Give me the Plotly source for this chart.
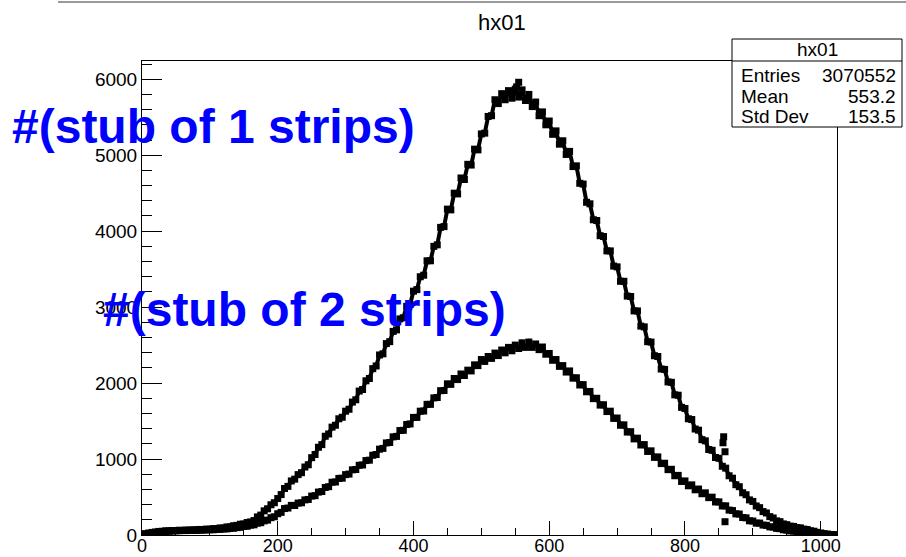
import plotly.graph_objects as go

# ---------------- data ----------------
bin_x = list(range(0, 1025, 5))

stub1_counts = [
    4, 16, 24, 34, 38, 47, 49, 55, 53, 59, 58, 63, 60, 66, 63, 68, 66, 73, 70, 78,
    76, 84, 83, 93, 92, 106, 108, 122, 127, 142, 146, 165, 172, 190, 238, 262, 318, 345, 398, 425,
    480, 532, 612, 640, 712, 735, 795, 820, 895, 925, 1018, 1060, 1155, 1190, 1300, 1330, 1420, 1445, 1530, 1550,
    1630, 1655, 1750, 1780, 1895, 1915, 2030, 2060, 2190, 2225, 2370, 2385, 2520, 2545, 2680, 2700, 2845, 2860, 3010, 3035,
    3210, 3230, 3400, 3420, 3610, 3610, 3800, 3820, 4050, 4060, 4290, 4280, 4500, 4490, 4700, 4680, 4880, 4870, 5080, 5070,
    5280, 5290, 5510, 5520, 5730, 5680, 5810, 5730, 5850, 5750, 5870, 5765, 5860, 5720, 5800, 5640, 5700, 5520, 5570, 5400,
    5450, 5275, 5320, 5145, 5190, 5010, 5050, 4850, 4860, 4630, 4620, 4380, 4360, 4150, 4140, 3940, 3930, 3740, 3740, 3540,
    3530, 3340, 3340, 3145, 3140, 2950, 2950, 2750, 2740, 2545, 2540, 2360, 2350, 2185, 2180, 2015, 2010, 1845, 1840, 1680,
    1665, 1530, 1520, 1395, 1380, 1255, 1240, 1125, 1115, 1020, 1010, 905, 880, 780, 748, 662, 636, 556, 530, 462,
    442, 382, 360, 308, 290, 242, 224, 186, 176, 146, 136, 117, 113, 97, 94, 78, 72, 56, 50, 35,
    27, 17, 13, 7, 5,
]

stub2_counts = [
    4, 13, 23, 28, 36, 39, 46, 47, 51, 52, 56, 56, 59, 58, 61, 60, 63, 63, 66, 66,
    69, 69, 73, 74, 80, 80, 87, 89, 97, 101, 113, 115, 129, 134, 155, 162, 186, 196, 228, 240,
    280, 298, 348, 355, 390, 388, 420, 424, 462, 468, 512, 518, 565, 572, 625, 636, 695, 698, 745, 748,
    795, 802, 858, 862, 918, 922, 980, 985, 1050, 1060, 1130, 1140, 1212, 1218, 1292, 1298, 1375, 1378, 1455, 1462,
    1548, 1548, 1630, 1632, 1720, 1720, 1805, 1810, 1900, 1902, 1990, 1983, 2060, 2046, 2120, 2100, 2170, 2160, 2240, 2230,
    2310, 2285, 2350, 2325, 2395, 2362, 2435, 2398, 2470, 2425, 2500, 2455, 2530, 2470, 2540, 2470, 2515, 2440, 2475, 2380,
    2390, 2300, 2310, 2220, 2230, 2145, 2160, 2065, 2070, 1975, 1980, 1885, 1890, 1795, 1800, 1710, 1715, 1625, 1630, 1535,
    1540, 1445, 1450, 1355, 1360, 1265, 1275, 1185, 1190, 1100, 1108, 1022, 1028, 940, 945, 860, 865, 780, 785, 705,
    712, 648, 660, 595, 605, 543, 555, 492, 498, 435, 436, 382, 384, 328, 322, 278, 276, 230, 226, 187,
    184, 156, 157, 131, 127, 107, 104, 87, 83, 69, 64, 54, 51, 43, 39, 32, 29, 23, 21, 15,
    13, 8, 7, 3, 2,
]

outlier_x = [552, 555, 857, 856, 859, 859]
outlier_y = [5900, 5960, 1293, 1214, 1096, 175]

hist_title = "hx01"
stats_names = ["Entries", "Mean", "Std Dev"]
stats_values = ["3070552", "553.2", "153.5"]
label_1 = "#(stub of 1 strips)"
label_2 = "#(stub of 2 strips)"

x_tickvals = [0, 200, 400, 600, 800, 1000]
y_tickvals = [0, 1000, 2000, 3000, 4000, 5000, 6000]

# ---------------- figure ----------------
W, H = 906, 557
L, R, T, B = 142, 69, 61, 22
PW, PH = W - L - R, H - T - B


def px_x(p):
    return (p - L) / PW


def px_y(p):
    return (H - B - p) / PH


FONT = "Liberation Sans, Arial, Helvetica, sans-serif"
marker = dict(symbol="square", size=7, color="black", line=dict(width=0))

fig = go.Figure()
for ys in (stub1_counts, stub2_counts):
    # dense band of bins: joining stroke under the square markers
    fig.add_trace(go.Scatter(x=bin_x, y=ys, mode="lines+markers", marker=marker,
                             line=dict(color="black", width=4),
                             showlegend=False, hoverinfo="skip"))
fig.add_trace(go.Scatter(x=outlier_x, y=outlier_y, mode="markers", marker=marker,
                         showlegend=False, hoverinfo="skip"))

axis_common = dict(
    showgrid=False, zeroline=False, showline=True, linecolor="black", linewidth=1,
    mirror=True, ticks="inside", tickcolor="black", tickwidth=1, automargin=False,
)

fig.update_xaxes(range=[0, 1024], tickvals=x_tickvals, ticklen=14, ticklabelstandoff=-6,
                 tickfont=dict(family=FONT, size=18, color="black"),
                 minor=dict(dtick=50, ticks="inside", ticklen=7, tickcolor="black"),
                 **axis_common)
fig.update_yaxes(range=[0, 6240], tickvals=y_tickvals, ticklen=20,
                 tickfont=dict(family=FONT, size=19, color="black"),
                 minor=dict(dtick=200, ticks="inside", ticklen=10, tickcolor="black"),
                 **axis_common)

shapes = [
    # top gray border
    dict(type="line", xref="paper", yref="paper", x0=px_x(58), x1=px_x(906),
         y0=px_y(2), y1=px_y(2), line=dict(color="#9a9a9a", width=2)),
    # stats box
    dict(type="rect", xref="paper", yref="paper", x0=px_x(732), x1=px_x(902),
         y0=px_y(127), y1=px_y(39), fillcolor="white", line=dict(color="black", width=1),
         layer="above"),
    dict(type="line", xref="paper", yref="paper", x0=px_x(732), x1=px_x(902),
         y0=px_y(61), y1=px_y(61), line=dict(color="black", width=1)),
]

annotations = [
    dict(text=hist_title, xref="paper", yref="paper", x=px_x(502), y=px_y(22),
         showarrow=False, xanchor="center", yanchor="middle",
         font=dict(family=FONT, size=22, color="black")),
    dict(text=hist_title, xref="paper", yref="paper", x=px_x(817), y=px_y(50),
         showarrow=False, xanchor="center", yanchor="middle",
         font=dict(family=FONT, size=19, color="black")),
]
row_y = [76, 97, 116]
for name, val, ry in zip(stats_names, stats_values, row_y):
    annotations.append(dict(text=name, xref="paper", yref="paper", x=px_x(739), y=px_y(ry),
                            showarrow=False, xanchor="left", yanchor="middle",
                            font=dict(family=FONT, size=19, color="black")))
    annotations.append(dict(text=val, xref="paper", yref="paper", x=px_x(898), y=px_y(ry),
                            showarrow=False, xanchor="right", yanchor="middle",
                            font=dict(family=FONT, size=19, color="black")))

for txt, lx, cy in ((label_1, 10, 126), (label_2, 101, 309)):
    annotations.append(dict(text="<b>" + txt + "</b>", xref="paper", yref="paper",
                            x=px_x(lx), y=px_y(cy), showarrow=False,
                            xanchor="left", yanchor="middle",
                            font=dict(family=FONT, size=48, color="#0000ff")))

fig.update_layout(
    width=W, height=H, autosize=False,
    margin=dict(l=L, r=R, t=T, b=B),
    paper_bgcolor="white", plot_bgcolor="white",
    shapes=shapes, annotations=annotations,
)

fig.write_html("out.html", config={"displayModeBar": False})
